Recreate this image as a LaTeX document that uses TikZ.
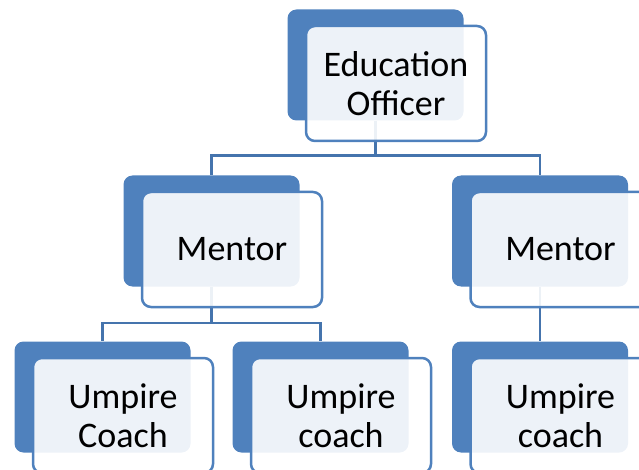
\documentclass[tikz,border=0pt]{standalone}
\usepackage{fontspec}
\setmainfont{Carlito}
\usepackage{xcolor}
\definecolor{boxblue}{HTML}{4F81BD}
\definecolor{linkblue}{HTML}{4574AD}

\begin{document}
\begin{tikzpicture}[x=1pt,y=1pt,
	back/.style={rectangle, rounded corners=9pt, fill=boxblue, minimum width=176pt, minimum height=111pt, inner sep=0pt},
	front/.style={rectangle, rounded corners=9pt, draw=boxblue, line width=2.5pt, fill=white, fill opacity=0.9, text opacity=1, minimum width=180pt, minimum height=115pt, align=center, font=\fontsize{36}{39.5}\selectfont},
	link/.style={draw=linkblue, line width=2.5pt}]
	\clip (0,0) rectangle (639,-470);
	\node[back] (officer) at (375.5,-65) {};
	\node[back] (mentorL) at (211.5,-231) {};
	\node[back] (mentorR) at (540,-231) {};
	\node[back] (umpireA) at (102.5,-397) {};
	\node[back] (umpireB) at (320.5,-397) {};
	\node[back] (umpireC) at (540,-397) {};
	\draw[link] (officer.south) -- ++(0,-35) -| (mentorL.north);
	\draw[link] (officer.south) -- ++(0,-35) -| (mentorR.north);
	\draw[link] (mentorL.south) -- ++(0,-36.5) -| (umpireA.north);
	\draw[link] (mentorL.south) -- ++(0,-36.5) -| (umpireB.north);
	\draw[link] (mentorR.south) -- (umpireC.north);
	\node[front] (officer-t) at ([shift={(20.5,-18.5)}]officer.center) {Education\\Officer};
	\node[front] (mentorL-t) at ([shift={(20.5,-18.5)}]mentorL.center) {Mentor};
	\node[front] (mentorR-t) at ([shift={(20.5,-18.5)}]mentorR.center) {Mentor};
	\node[front] (umpireA-t) at ([shift={(20.5,-18.5)}]umpireA.center) {Umpire\\Coach};
	\node[front] (umpireB-t) at ([shift={(20.5,-18.5)}]umpireB.center) {Umpire\\coach};
	\node[front] (umpireC-t) at ([shift={(20.5,-18.5)}]umpireC.center) {Umpire\\coach};
\end{tikzpicture}
\end{document}
